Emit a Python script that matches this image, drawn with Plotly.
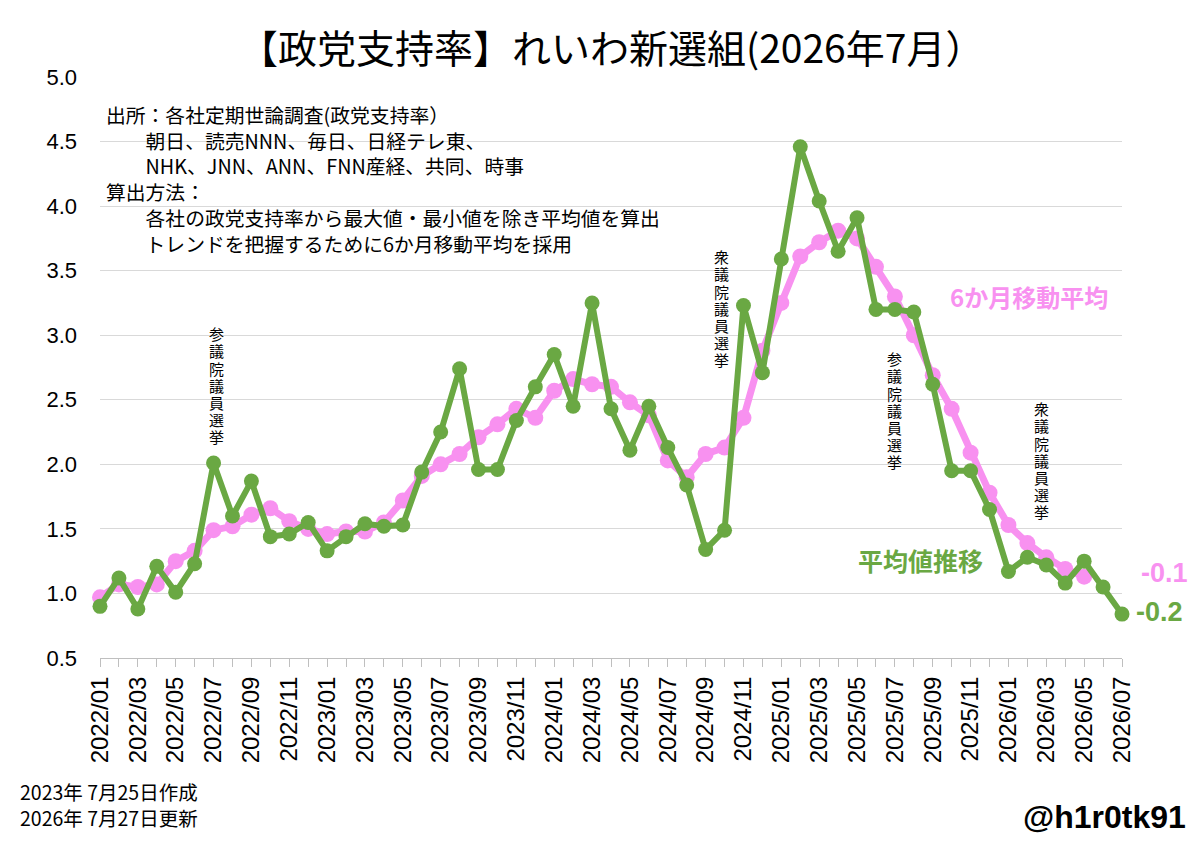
import plotly.graph_objects as go

months = [f"{y}/{m:02d}" for y in range(2022, 2027) for m in range(1, 13)][:55]

avg_values = [0.90, 1.12, 0.88, 1.21, 1.01, 1.23, 2.01, 1.60, 1.87, 1.44, 1.46, 1.55,
              1.33, 1.44, 1.54, 1.52, 1.53, 1.94, 2.25, 2.74, 1.96, 1.96, 2.34, 2.60,
              2.85, 2.45, 3.25, 2.43, 2.11, 2.45, 2.13, 1.84, 1.34, 1.49, 3.23, 2.71,
              3.59, 4.46, 4.04, 3.65, 3.91, 3.20, 3.20, 3.18, 2.62, 1.95, 1.95, 1.65,
              1.17, 1.28, 1.22, 1.08, 1.25, 1.05, 0.84]

ma6_values = [0.97, 1.07, 1.05, 1.07, 1.25, 1.33, 1.49, 1.52, 1.61, 1.66, 1.56, 1.50,
              1.46, 1.48, 1.48, 1.55, 1.72, 1.91, 2.00, 2.08, 2.21, 2.31, 2.43, 2.36,
              2.57, 2.66, 2.62, 2.60, 2.48, 2.38, 2.03, 1.90, 2.08, 2.13, 2.36, 2.88,
              3.25, 3.61, 3.72, 3.81, 3.75, 3.53, 3.30, 3.00, 2.69, 2.43, 2.09, 1.78,
              1.53, 1.39, 1.28, 1.19, 1.13]

y_ticks = [0.5, 1.0, 1.5, 2.0, 2.5, 3.0, 3.5, 4.0, 4.5, 5.0]

elections = [("2022/07", "参議院議員選挙"), ("2024/10", "衆議院議員選挙"),
             ("2025/07", "参議院議員選挙"), ("2026/02", "衆議院議員選挙")]

title_text = "【政党支持率】れいわ新選組(2026年7月）"
note_lines = ["出所：各社定期世論調査(政党支持率）",
              "\u3000\u3000朝日、読売NNN、毎日、日経テレ東、",
              "\u3000\u3000NHK、JNN、ANN、FNN産経、共同、時事",
              "算出方法：",
              "\u3000\u3000各社の政党支持率から最大値・最小値を除き平均値を算出",
              "\u3000\u3000トレンドを把握するために6か月移動平均を採用"]

PINK = "#F891F0"
GREEN = "#6AA843"
JP = "Noto Sans CJK JP"
LAT = "Liberation Sans"

x_idx = list(range(len(months)))

fig = go.Figure()
fig.add_trace(go.Scatter(x=x_idx[:len(ma6_values)], y=ma6_values, mode="lines+markers",
                         line=dict(color=PINK, width=7), marker=dict(color=PINK, size=16),
                         cliponaxis=False, showlegend=False, name="6か月移動平均"))
fig.add_trace(go.Scatter(x=x_idx, y=avg_values, mode="lines+markers",
                         line=dict(color=GREEN, width=6), marker=dict(color=GREEN, size=15),
                         cliponaxis=False, showlegend=False, name="平均値推移"))

ann = []
ann.append(dict(text=title_text, x=0.5, xref="paper", y=1.0534, yref="paper",
                xanchor="center", yanchor="middle", showarrow=False,
                font=dict(family=JP, size=39, color="black")))
ann.append(dict(text="<br>".join(note_lines), x=0.004, xref="paper", y=0.963, yref="paper",
                xanchor="left", yanchor="top", align="left", showarrow=False,
                font=dict(family=JP, size=19.8, color="black")))

# vertical election labels: one character per annotation, stacked
PLOT_TOP, PLOT_H = 77, 581
ann_pos = [(6.13, 325), (32.86, 248), (42.0, 350), (49.72, 400)]  # (x index, top pixel)
pitch = 17.2
for (m, label), (ax, top_px) in zip(elections, ann_pos):
    for k, ch in enumerate(label):
        cy = top_px + pitch * (k + 0.5)
        ann.append(dict(text=ch, x=ax, xref="x", y=1 - (cy - PLOT_TOP) / PLOT_H, yref="paper",
                        xanchor="center", yanchor="middle", showarrow=False,
                        font=dict(family=JP, size=15, color="black")))

ann.append(dict(text="6か月移動平均", x=49.1, y=3.30, xref="x", yref="y",
                xanchor="center", yanchor="middle", showarrow=False,
                font=dict(family=JP, size=24, color=PINK, weight="bold")))
ann.append(dict(text="平均値推移", x=43.33, y=1.26, xref="x", yref="y",
                xanchor="center", yanchor="middle", showarrow=False,
                font=dict(family=JP, size=25, color=GREEN, weight="bold")))
ann.append(dict(text="<b>-0.1</b>", x=1.0166, y=(1.16 - 0.5) / 4.5, xref="paper", yref="paper",
                xanchor="left", yanchor="middle", showarrow=False,
                font=dict(family=LAT, size=27, color=PINK)))
ann.append(dict(text="<b>-0.2</b>", x=1.0117, y=(0.86 - 0.5) / 4.5, xref="paper", yref="paper",
                xanchor="left", yanchor="middle", showarrow=False,
                font=dict(family=LAT, size=27, color=GREEN)))
ann.append(dict(text="2023年 7月25日作成", x=-0.0802, y=-0.2306, xref="paper", yref="paper",
                xanchor="left", yanchor="middle", showarrow=False,
                font=dict(family=JP, size=19.5, color="black")))
ann.append(dict(text="2026年 7月27日更新", x=-0.0802, y=-0.2737, xref="paper", yref="paper",
                xanchor="left", yanchor="middle", showarrow=False,
                font=dict(family=JP, size=19.5, color="black")))
ann.append(dict(text="<b>@h1r0tk91</b>", x=1.0646, y=-0.2737, xref="paper", yref="paper",
                xanchor="right", yanchor="middle", showarrow=False,
                font=dict(family=LAT, size=32, color="black")))

fig.update_layout(
    width=1200, height=848,
    margin=dict(l=100, r=78, t=77, b=190, autoexpand=False),
    paper_bgcolor="white", plot_bgcolor="white",
    annotations=ann,
    xaxis=dict(range=[0, len(months) - 1], tickmode="array",
               tickvals=x_idx[::2], ticktext=months[::2], tickangle=-90,
               ticks="outside", ticklen=8, tickcolor="#bfbfbf",
               showline=True, linecolor="#bfbfbf", linewidth=1,
               showgrid=False, zeroline=False,
               tickfont=dict(family=LAT, size=24, color="black"),
               minor=dict(tickmode="linear", tick0=0, dtick=1, ticks="outside",
                          ticklen=8, tickcolor="#bfbfbf", showgrid=False),
               automargin=False),
    yaxis=dict(range=[0.5, 5.0], tickmode="array", tickvals=y_ticks,
               tickformat=".1f", showgrid=True, gridcolor="#d9d9d9", gridwidth=1,
               zeroline=False, showline=False, ticks="",
               ticklabelstandoff=22,
               tickfont=dict(family=LAT, size=22, color="black"),
               automargin=False),
)

fig.write_html("out.html")
